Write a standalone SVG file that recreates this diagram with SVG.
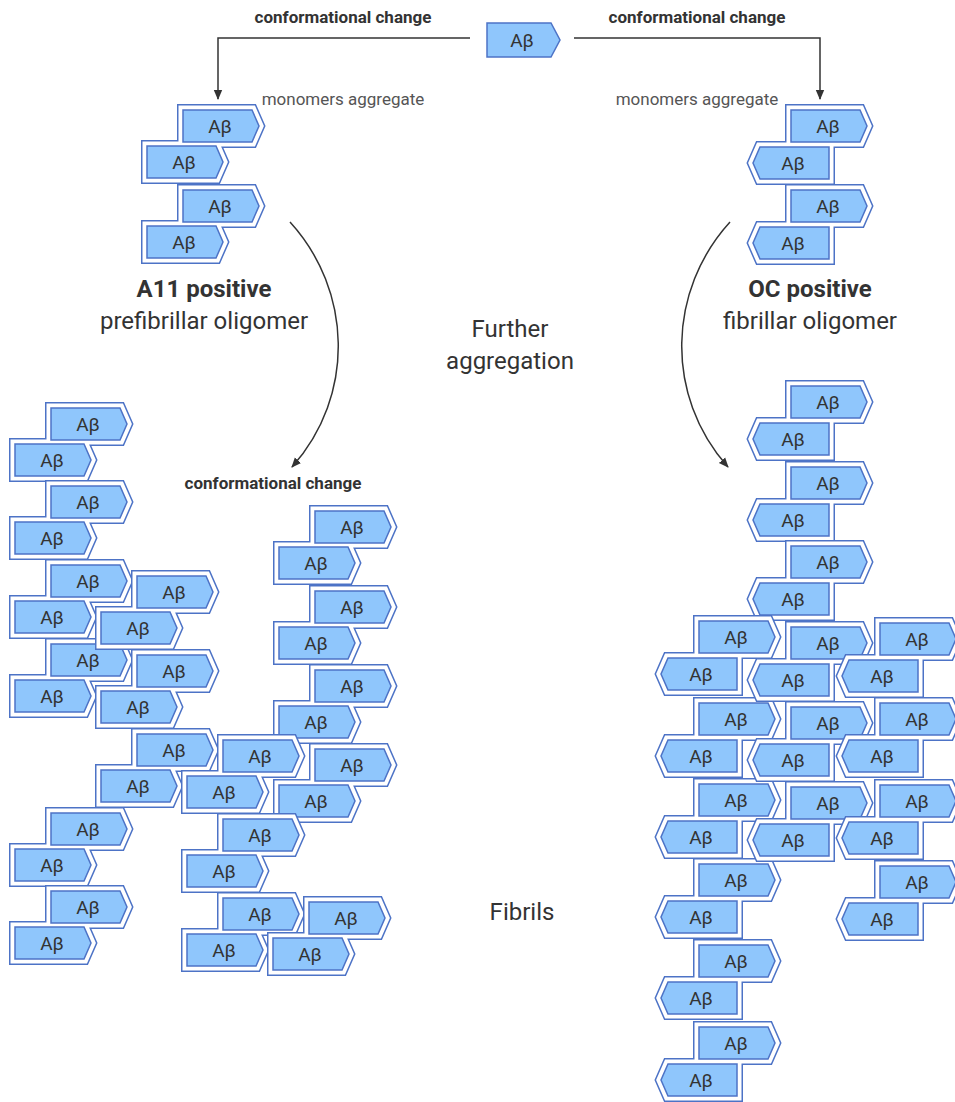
<svg xmlns="http://www.w3.org/2000/svg" xmlns:xlink="http://www.w3.org/1999/xlink" width="955" height="1102" viewBox="0 0 955 1102">
<style>
.o1{fill:none;stroke:#4d73c6;stroke-width:12;stroke-linejoin:miter}
.o2{fill:none;stroke:#ffffff;stroke-width:9;stroke-linejoin:miter}
.ar{fill:#8fc6fc;stroke:#4d73c6;stroke-width:1.5;stroke-linejoin:miter}
.lb{font-family:Roboto,"Liberation Sans",sans-serif;font-size:19px;fill:#333;text-anchor:middle}
.sb{font-family:Roboto,"Liberation Sans",sans-serif;font-size:17px;font-weight:bold;fill:#333;text-anchor:middle}
.sm{font-family:Roboto,"Liberation Sans",sans-serif;font-size:17px;fill:#555;text-anchor:middle}
.bb{font-family:Roboto,"Liberation Sans",sans-serif;font-size:24px;font-weight:bold;fill:#333;text-anchor:middle}
.bn{font-family:Roboto,"Liberation Sans",sans-serif;font-size:24px;fill:#333;text-anchor:middle}
.cn{fill:none;stroke:#333;stroke-width:1.5}
</style>
<defs>
<marker id="ah" markerWidth="10" markerHeight="10" refX="9" refY="5" orient="auto" markerUnits="userSpaceOnUse"><path d="M0,0.8L10,5L0,9.2Z" fill="#333"/></marker>
<path id="rrS" d="M-37,-16H32L39,0L32,16H-37Z M-73,20H-4L3,36L-4,52H-73Z"/>
<path id="rlS" d="M-37,-16H32L39,0L32,16H-37Z M1,21H-68L-75,37L-68,53H1Z"/>
<g id="rr"><use href="#rrS" class="o1"/><use href="#rrS" class="o2"/><use href="#rrS" class="ar"/></g>
<g id="rl"><use href="#rlS" class="o1"/><use href="#rlS" class="o2"/><use href="#rlS" class="ar"/></g>
</defs>
<rect width="955" height="1102" fill="#fff"/>

<g id="connectors">
<path class="cn" d="M470,38H218V99" marker-end="url(#ah)"/>
<path class="cn" d="M574,38H820V99" marker-end="url(#ah)"/>
<path class="cn" d="M290,222C352,290 356,395 292,467" marker-end="url(#ah)"/>
<path class="cn" d="M730,222C668,290 664,395 728,467" marker-end="url(#ah)"/>
</g>

<g id="labels">
<text class="sb" x="343" y="23">conformational change</text>
<text class="sb" x="697" y="23">conformational change</text>
<text class="sb" x="273" y="489">conformational change</text>
<text class="sm" x="343" y="105">monomers aggregate</text>
<text class="sm" x="697" y="105">monomers aggregate</text>
<text class="bb" x="204" y="297">A11 positive</text>
<text class="bn" x="204" y="329">prefibrillar oligomer</text>
<text class="bb" x="810" y="297">OC positive</text>
<text class="bn" x="810" y="329">fibrillar oligomer</text>
<text class="bn" x="510" y="337">Further</text>
<text class="bn" x="510" y="369">aggregation</text>
<text class="bn" x="522" y="920">Fibrils</text>
</g>

<g id="monomer"><path class="ar" d="M487,23H551L560,40L551,57H487Z"/><text class="lb" x="522" y="47">Aβ</text></g>

<g id="a11-oligomer">
<g id="a11-1" transform="translate(220,126)"><use href="#rr"/><text class="lb" x="0" y="7">Aβ</text><text class="lb" x="-36" y="43">Aβ</text></g>
<g id="a11-2" transform="translate(220,206)"><use href="#rr"/><text class="lb" x="0" y="7">Aβ</text><text class="lb" x="-36" y="43">Aβ</text></g>
</g>

<g id="oc-oligomer">
<g id="oc-1" transform="translate(828,126)"><use href="#rl"/><text class="lb" x="0" y="7">Aβ</text><text class="lb" x="-35" y="44">Aβ</text></g>
<g id="oc-2" transform="translate(828,206)"><use href="#rl"/><text class="lb" x="0" y="7">Aβ</text><text class="lb" x="-35" y="44">Aβ</text></g>
</g>

<g id="left-fibrils">
<g id="lf-1" transform="translate(88,424)"><use href="#rr"/><text class="lb" x="0" y="7">Aβ</text><text class="lb" x="-36" y="43">Aβ</text></g>
<g id="lf-2" transform="translate(88,502)"><use href="#rr"/><text class="lb" x="0" y="7">Aβ</text><text class="lb" x="-36" y="43">Aβ</text></g>
<g id="lf-3" transform="translate(88,581)"><use href="#rr"/><text class="lb" x="0" y="7">Aβ</text><text class="lb" x="-36" y="43">Aβ</text></g>
<g id="lf-4" transform="translate(88,660)"><use href="#rr"/><text class="lb" x="0" y="7">Aβ</text><text class="lb" x="-36" y="43">Aβ</text></g>
<g id="lf-5" transform="translate(88,829)"><use href="#rr"/><text class="lb" x="0" y="7">Aβ</text><text class="lb" x="-36" y="43">Aβ</text></g>
<g id="lf-6" transform="translate(88,907)"><use href="#rr"/><text class="lb" x="0" y="7">Aβ</text><text class="lb" x="-36" y="43">Aβ</text></g>
<g id="lf-7" transform="translate(174,592)"><use href="#rr"/><text class="lb" x="0" y="7">Aβ</text><text class="lb" x="-36" y="43">Aβ</text></g>
<g id="lf-8" transform="translate(174,671)"><use href="#rr"/><text class="lb" x="0" y="7">Aβ</text><text class="lb" x="-36" y="43">Aβ</text></g>
<g id="lf-9" transform="translate(174,750)"><use href="#rr"/><text class="lb" x="0" y="7">Aβ</text><text class="lb" x="-36" y="43">Aβ</text></g>
<g id="lf-10" transform="translate(352,527)"><use href="#rr"/><text class="lb" x="0" y="7">Aβ</text><text class="lb" x="-36" y="43">Aβ</text></g>
<g id="lf-11" transform="translate(352,607)"><use href="#rr"/><text class="lb" x="0" y="7">Aβ</text><text class="lb" x="-36" y="43">Aβ</text></g>
<g id="lf-12" transform="translate(352,686)"><use href="#rr"/><text class="lb" x="0" y="7">Aβ</text><text class="lb" x="-36" y="43">Aβ</text></g>
<g id="lf-13" transform="translate(352,765)"><use href="#rr"/><text class="lb" x="0" y="7">Aβ</text><text class="lb" x="-36" y="43">Aβ</text></g>
<g id="lf-14" transform="translate(260,756)"><use href="#rr"/><text class="lb" x="0" y="7">Aβ</text><text class="lb" x="-36" y="43">Aβ</text></g>
<g id="lf-15" transform="translate(260,835)"><use href="#rr"/><text class="lb" x="0" y="7">Aβ</text><text class="lb" x="-36" y="43">Aβ</text></g>
<g id="lf-16" transform="translate(260,914)"><use href="#rr"/><text class="lb" x="0" y="7">Aβ</text><text class="lb" x="-36" y="43">Aβ</text></g>
<g id="lf-17" transform="translate(346,918)"><use href="#rr"/><text class="lb" x="0" y="7">Aβ</text><text class="lb" x="-36" y="43">Aβ</text></g>
</g>

<g id="right-fibrils">
<g id="rf-1" transform="translate(828,402)"><use href="#rl"/><text class="lb" x="0" y="7">Aβ</text><text class="lb" x="-35" y="44">Aβ</text></g>
<g id="rf-2" transform="translate(828,483)"><use href="#rl"/><text class="lb" x="0" y="7">Aβ</text><text class="lb" x="-35" y="44">Aβ</text></g>
<g id="rf-3" transform="translate(828,562)"><use href="#rl"/><text class="lb" x="0" y="7">Aβ</text><text class="lb" x="-35" y="44">Aβ</text></g>
<g id="rf-4" transform="translate(736,637)"><use href="#rl"/><text class="lb" x="0" y="7">Aβ</text><text class="lb" x="-35" y="44">Aβ</text></g>
<g id="rf-5" transform="translate(736,719)"><use href="#rl"/><text class="lb" x="0" y="7">Aβ</text><text class="lb" x="-35" y="44">Aβ</text></g>
<g id="rf-6" transform="translate(736,800)"><use href="#rl"/><text class="lb" x="0" y="7">Aβ</text><text class="lb" x="-35" y="44">Aβ</text></g>
<g id="rf-7" transform="translate(736,880)"><use href="#rl"/><text class="lb" x="0" y="7">Aβ</text><text class="lb" x="-35" y="44">Aβ</text></g>
<g id="rf-8" transform="translate(736,961)"><use href="#rl"/><text class="lb" x="0" y="7">Aβ</text><text class="lb" x="-35" y="44">Aβ</text></g>
<g id="rf-9" transform="translate(736,1043)"><use href="#rl"/><text class="lb" x="0" y="7">Aβ</text><text class="lb" x="-35" y="44">Aβ</text></g>
<g id="rf-10" transform="translate(828,643)"><use href="#rl"/><text class="lb" x="0" y="7">Aβ</text><text class="lb" x="-35" y="44">Aβ</text></g>
<g id="rf-11" transform="translate(828,723)"><use href="#rl"/><text class="lb" x="0" y="7">Aβ</text><text class="lb" x="-35" y="44">Aβ</text></g>
<g id="rf-12" transform="translate(828,803)"><use href="#rl"/><text class="lb" x="0" y="7">Aβ</text><text class="lb" x="-35" y="44">Aβ</text></g>
<g id="rf-13" transform="translate(917,639)"><use href="#rl"/><text class="lb" x="0" y="7">Aβ</text><text class="lb" x="-35" y="44">Aβ</text></g>
<g id="rf-14" transform="translate(917,719)"><use href="#rl"/><text class="lb" x="0" y="7">Aβ</text><text class="lb" x="-35" y="44">Aβ</text></g>
<g id="rf-15" transform="translate(917,801)"><use href="#rl"/><text class="lb" x="0" y="7">Aβ</text><text class="lb" x="-35" y="44">Aβ</text></g>
<g id="rf-16" transform="translate(917,882)"><use href="#rl"/><text class="lb" x="0" y="7">Aβ</text><text class="lb" x="-35" y="44">Aβ</text></g>
</g>
</svg>
